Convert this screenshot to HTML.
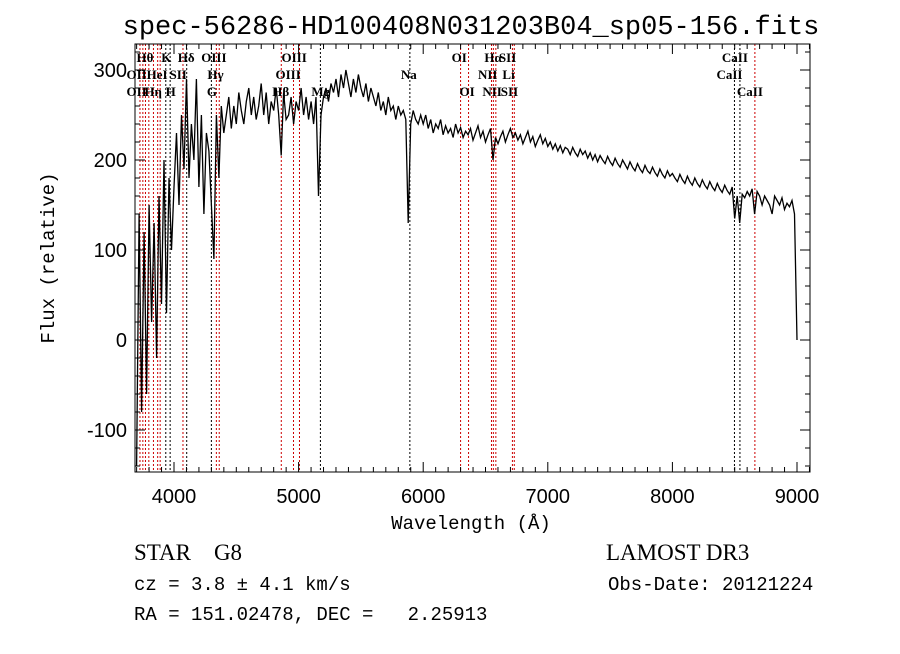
<!DOCTYPE html>
<html><head><meta charset="utf-8"><style>
body{margin:0;background:#fff}
svg text{font-family:"Liberation Sans",sans-serif}
</style></head><body>
<svg id="c" width="900" height="649" viewBox="0 0 900 649">
<rect width="900" height="649" fill="#fff"/>
<text x="471" y="34" text-anchor="middle" style="font-family:'Liberation Mono',monospace;font-size:27px">spec-56286-HD100408N031203B04_sp05-156.fits</text>
<g id="lines"></g>
<g id="spec"></g>
<g id="axes"></g>
<text x="471" y="529" text-anchor="middle" style="font-family:'Liberation Mono',monospace;font-size:19px">Wavelength (Å)</text>
<text transform="translate(54,258) rotate(-90)" text-anchor="middle" style="font-family:'Liberation Mono',monospace;font-size:19px">Flux (relative)</text>
<text x="134" y="560" xml:space="preserve" style="font-family:'Liberation Serif',serif;font-size:23px">STAR    G8</text>
<text x="606" y="560" style="font-family:'Liberation Serif',serif;font-size:23px">LAMOST DR3</text>
<text x="134" y="590" style="font-family:'Liberation Mono',monospace;font-size:19px">cz = 3.8 ± 4.1 km/s</text>
<text x="608" y="590" style="font-family:'Liberation Mono',monospace;font-size:19px">Obs-Date: 20121224</text>
<text x="134" y="620" xml:space="preserve" style="font-family:'Liberation Mono',monospace;font-size:19px">RA = 151.02478, DEC =   2.25913</text>
</svg>
<script>
const NS="http://www.w3.org/2000/svg";
const waveStart=3700, waveStep=20;
const flux=[-140,140,-80,120,-60,150,20,130,-20,160,40,200,30,180,100,
170,230,150,250,190,290,180,240,200,290,170,250,140,230,210,150,90,250,180,260,230,250,270,235,260,240,275,255,240,265,280,250,270,245,260,285,250,275,240,265,255,280,250,205,275,245,250,270,240,265,
255,280,250,270,245,265,240,270,160,250,270,280,265,285,275,290,270,295,280,300,285,270,290,275,295,280,270,285,265,280,270,260,275,255,265,250,270,255,260,245,260,250,255,245,130,240,255,245,240,250,
240,250,235,245,230,240,235,245,228,238,230,235,225,240,230,236,225,232,228,235,222,230,238,225,232,220,228,235,200,225,218,226,232,220,228,235,225,230,222,228,218,225,232,220,226,215,222,228,218,224,
215,220,212,218,210,216,208,214,212,206,214,208,204,212,206,210,202,208,200,206,198,205,200,196,204,198,194,202,196,192,200,195,190,198,192,188,196,190,186,194,188,185,192,186,182,190,184,180,188,182,
185,180,176,184,178,174,182,176,172,180,174,170,178,172,168,176,170,166,174,168,164,172,166,162,170,135,160,130,162,158,165,160,168,140,165,160,150,160,155,150,140,160,155,150,158,145,152,148,155,140,
0];
const lineW=[3727,3750,3771,3798,3835,3869,3889,3934,3969,4072,4102,4300,4340,4363,4861,4959,5007,5175,5893,6300,6364,6548,6563,6583,6716,6731,8498,8542,8662];
const lineBlack=[0,0,0,0,0,0,0,1,1,0,1,1,0,0,0,0,0,1,1,0,0,0,0,0,0,0,1,1,0];
const labelTxt=["Hθ","K","Hδ","OIII","OIII","OI","Hα","SII","CaII","OII","HeI","SII","Hγ","OIII","Na","NII","Li","CaII","OII","Hη","H","G","Hβ","Mg","OI","NII","SII","CaII"];
const labelW=[3771,3934,4102,4363,5007,6300,6563,6716,8542,3727,3889,4072,4340,4959,5893,6548,6708,8498,3727,3835,3969,4300,4861,5175,6364,6583,6731,8662];
const labelRow=[0,0,0,0,0,0,0,0,0,1,1,1,1,1,1,1,1,1,2,2,2,2,2,2,2,2,2,2];
const xTicks=[4000,5000,6000,7000,8000,9000];
const yTicks=[-100,0,100,200,300];
const X0=135,X1=810,Y0=44,Y1=472;
const xs=w=>174+(w-4000)*0.1246;
const ys=f=>340-f*0.9;
function mk(t,a,p){const e=document.createElementNS(NS,t);for(const k in a)e.setAttribute(k,a[k]);p.appendChild(e);return e;}
const gL=document.getElementById('lines'),gS=document.getElementById('spec'),gA=document.getElementById('axes');
lineW.forEach((w,i)=>{const l=mk('line',{x1:xs(w),x2:xs(w),y1:Y0,y2:Y1,stroke:lineBlack[i]?'#000':'#c00','stroke-width':1,'stroke-dasharray':'2,2'},gL);

});
labelTxt.forEach((t,i)=>{const e=mk('text',{x:xs(labelW[i])-(t.length*4.5),y:62+labelRow[i]*17,style:"font-family:'Liberation Serif',serif;font-size:13px;font-weight:bold"},gL);e.textContent=t;

});
const pts=flux.map((f,i)=>xs(waveStart+i*waveStep).toFixed(1)+','+Math.max(Y0,Math.min(Y1,ys(f))).toFixed(1)).join(' ');
const pl=mk('polyline',{points:pts,fill:'none',stroke:'#000','stroke-width':1.3},gS);


const fr=mk('rect',{x:X0,y:Y0,width:X1-X0,height:Y1-Y0,fill:'none',stroke:'#000','stroke-width':1},gA);


for(let w=3700;w<=9100;w+=100){const x=xs(w);if(x<X0||x>X1)continue;const L=(w%1000===0)?10:5;
mk('line',{x1:x,x2:x,y1:Y1,y2:Y1-L,stroke:'#000'},gA);mk('line',{x1:x,x2:x,y1:Y0,y2:Y0+L,stroke:'#000'},gA);}
for(let f=-140;f<=320;f+=20){const y=ys(f);const L=(f%100===0)?10:5;
mk('line',{x1:X0,x2:X0+L,y1:y,y2:y,stroke:'#000'},gA);mk('line',{x1:X1,x2:X1-L,y1:y,y2:y,stroke:'#000'},gA);}
xTicks.forEach(v=>{const t=mk('text',{x:xs(v),y:503,'font-size':20,'text-anchor':'middle'},gA);t.textContent=v;

});
yTicks.forEach(v=>{const t=mk('text',{x:127,y:ys(v)+7,'font-size':20,'text-anchor':'end'},gA);t.textContent=v;

});
</script>
</body></html>
